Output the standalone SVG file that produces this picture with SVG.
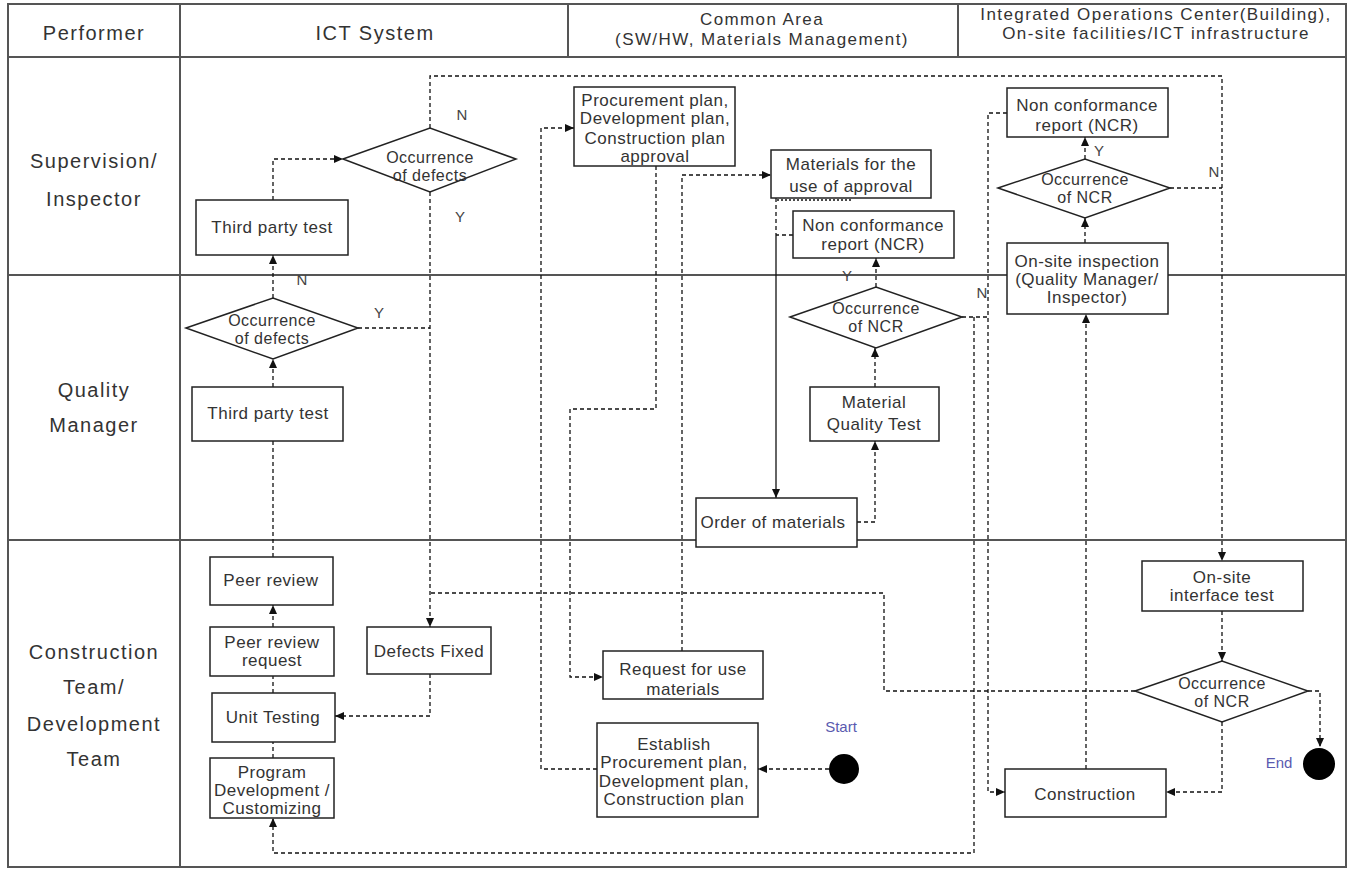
<svg xmlns="http://www.w3.org/2000/svg" width="1350" height="869" viewBox="0 0 1350 869">
<defs>
<marker id="ah" markerUnits="userSpaceOnUse" markerWidth="9" markerHeight="8" refX="9" refY="4" orient="auto">
<path d="M0,0 L9,4 L0,8 z" fill="#111"/>
</marker>
<style>
text{font-family:"Liberation Sans",Arial,sans-serif;fill:#333;text-anchor:middle}
.hdr{font-size:20px;letter-spacing:1.5px}
.hdr2{font-size:17px;letter-spacing:1.4px}
.lane{font-size:20px;letter-spacing:1.5px}
.t{font-size:17px;letter-spacing:0.5px}
.d{font-size:16px;letter-spacing:0.5px}
.yn{font-size:15px;fill:#444}
.se{font-size:15px;fill:#5a5ab0}
.box{fill:#fff;stroke:#222;stroke-width:1.5}
.tbl{fill:none;stroke:#555;stroke-width:2}
.c{fill:none;stroke:#111;stroke-width:1.3;stroke-dasharray:4 3}
.s{fill:none;stroke:#111;stroke-width:1.3}
.a{marker-end:url(#ah)}
</style>
</defs>
<rect width="1350" height="869" fill="#fff"/>
<g id="table">
<rect class="tbl" x="8" y="4" width="1338" height="863"/>
<line class="tbl" x1="8" y1="57" x2="1346" y2="57"/>
<line class="tbl" x1="180" y1="4" x2="180" y2="867"/>
<line class="tbl" x1="568" y1="4" x2="568" y2="57"/>
<line class="tbl" x1="958" y1="4" x2="958" y2="57"/>
<line class="tbl" x1="8" y1="275" x2="1346" y2="275"/>
<line class="tbl" x1="8" y1="540" x2="1346" y2="540"/>
<text class="hdr" x="94" y="40">Performer</text>
<text class="hdr" x="375" y="40">ICT System</text>
<text class="hdr2" x="762" y="25">Common Area</text>
<text class="hdr2" x="762" y="45">(SW/HW, Materials Management)</text>
<text class="hdr2" x="1156" y="20">Integrated Operations Center(Building),</text>
<text class="hdr2" x="1156" y="39">On-site facilities/ICT infrastructure</text>
<text class="lane" x="94" y="168">Supervision/</text>
<text class="lane" x="94" y="206">Inspector</text>
<text class="lane" x="94" y="397">Quality</text>
<text class="lane" x="94" y="432">Manager</text>
<text class="lane" x="94" y="659">Construction</text>
<text class="lane" x="94" y="694">Team/</text>
<text class="lane" x="94" y="731">Development</text>
<text class="lane" x="94" y="766">Team</text>
</g>
<g id="connectors">
<path class="c a" d="M273,200 V159 H343"/>
<path class="c a" d="M430,128 V76 H1222 V561"/>
<path class="c a" d="M430,192 V627"/>
<path class="c a" d="M273,298 V255"/>
<path class="c" d="M358,328 H430"/>
<path class="c a" d="M273,387 V359"/>
<path class="c" d="M273,557 V441"/>
<path class="c a" d="M273,627 V605"/>
<path class="c" d="M273,693 V676"/>
<path class="c" d="M273,758 V742"/>
<path class="c a" d="M430,674 V716 H335"/>
<path class="c" d="M1135,691 H884 V593 H430"/>
<path class="c a" d="M829,769 H758"/>
<path class="c a" d="M597,769 H541 V128 H574"/>
<path class="c a" d="M656,166 V409 H570 V677 H603"/>
<path class="c a" d="M682,651 V175 H771"/>
<path class="c" d="M776,198 V235"/>
<path class="s a" d="M776,235 V498"/>
<path class="c" d="M777,200 H852" style="stroke-dasharray:2 2"/>
<path class="c" d="M793,235 H776"/>
<path class="c a" d="M857,522 H875 V441"/>
<path class="c a" d="M875,387 V348"/>
<path class="c a" d="M876,287 V258"/>
<path class="c" d="M962,317 H988"/>
<path class="c a" d="M974,317 V853 H273 V818"/>
<path class="c a" d="M1007,113 H988 V792 H1005"/>
<path class="c a" d="M1085,159 V137"/>
<path class="c" d="M1170,188 H1222"/>
<path class="c a" d="M1085,243 V218"/>
<path class="c a" d="M1086,769 V314"/>
<path class="c a" d="M1222,611 V661"/>
<path class="c a" d="M1308,691 H1320 V747"/>
<path class="c a" d="M1222,722 V792 H1166"/>
<text class="yn" x="462" y="120">N</text>
<text class="yn" x="460" y="222">Y</text>
<text class="yn" x="302" y="285">N</text>
<text class="yn" x="379" y="318">Y</text>
<text class="yn" x="847" y="281">Y</text>
<text class="yn" x="982" y="298">N</text>
<text class="yn" x="1099" y="156">Y</text>
<text class="yn" x="1214" y="177">N</text>
</g>
<g id="n-third-party-sup">
<rect class="box" x="196" y="200" width="152" height="55"/>
<text class="t" x="272" y="233">Third party test</text>
</g>
<g id="n-defects-sup">
<polygon class="box" points="343,159 430,128 516,159 430,192"/>
<text class="d" x="430" y="163">Occurrence</text>
<text class="d" x="430" y="181">of defects</text>
</g>
<g id="n-defects-qm">
<polygon class="box" points="186,328 273,298 358,328 273,359"/>
<text class="d" x="272" y="326">Occurrence</text>
<text class="d" x="272" y="344">of defects</text>
</g>
<g id="n-third-party-qm">
<rect class="box" x="192" y="387" width="151" height="54"/>
<text class="t" x="268" y="419">Third party test</text>
</g>
<g id="n-peer-review">
<rect class="box" x="210" y="557" width="123" height="48"/>
<text class="t" x="271" y="586">Peer review</text>
</g>
<g id="n-peer-review-request">
<rect class="box" x="210" y="627" width="124" height="49"/>
<text class="t" x="272" y="648">Peer review</text>
<text class="t" x="272" y="666">request</text>
</g>
<g id="n-unit-testing">
<rect class="box" x="212" y="693" width="123" height="49"/>
<text class="t" x="273" y="723">Unit Testing</text>
</g>
<g id="n-program-dev">
<rect class="box" x="210" y="758" width="124" height="60"/>
<text class="t" x="272" y="778">Program</text>
<text class="t" x="272" y="796">Development /</text>
<text class="t" x="272" y="814">Customizing</text>
</g>
<g id="n-defects-fixed">
<rect class="box" x="367" y="627" width="124" height="47"/>
<text class="t" x="429" y="657">Defects Fixed</text>
</g>
<g id="n-plan-approval">
<rect class="box" x="574" y="87" width="161" height="79"/>
<text class="t" x="655" y="106">Procurement plan,</text>
<text class="t" x="655" y="124">Development plan,</text>
<text class="t" x="655" y="144">Construction plan</text>
<text class="t" x="655" y="162">approval</text>
</g>
<g id="n-materials-approval">
<rect class="box" x="771" y="150" width="160" height="48"/>
<text class="t" x="851" y="170">Materials for the</text>
<text class="t" x="851" y="192">use of approval</text>
</g>
<g id="n-ncr-common">
<rect class="box" x="793" y="211" width="161" height="47"/>
<text class="t" x="873" y="231">Non conformance</text>
<text class="t" x="873" y="250">report (NCR)</text>
</g>
<g id="n-ncr-decision-common">
<polygon class="box" points="790,317 876,287 962,317 876,348"/>
<text class="d" x="876" y="314">Occurrence</text>
<text class="d" x="876" y="332">of NCR</text>
</g>
<g id="n-material-quality-test">
<rect class="box" x="810" y="387" width="129" height="54"/>
<text class="t" x="874" y="408">Material</text>
<text class="t" x="874" y="430">Quality Test</text>
</g>
<g id="n-order-materials">
<rect class="box" x="696" y="498" width="161" height="49"/>
<text class="t" x="773" y="528">Order of materials</text>
</g>
<g id="n-request-materials">
<rect class="box" x="603" y="651" width="160" height="48"/>
<text class="t" x="683" y="675">Request for use</text>
<text class="t" x="683" y="695">materials</text>
</g>
<g id="n-establish-plan">
<rect class="box" x="597" y="723" width="161" height="94"/>
<text class="t" x="674" y="750">Establish</text>
<text class="t" x="674" y="768">Procurement plan,</text>
<text class="t" x="674" y="787">Development plan,</text>
<text class="t" x="674" y="805">Construction plan</text>
</g>
<g id="n-start">
<circle cx="844" cy="769" r="15" fill="#000"/>
<text class="se" x="841" y="732">Start</text>
</g>
<g id="n-ncr-integrated">
<rect class="box" x="1007" y="88" width="161" height="49"/>
<text class="t" x="1087" y="111">Non conformance</text>
<text class="t" x="1087" y="131">report (NCR)</text>
</g>
<g id="n-ncr-decision-top">
<polygon class="box" points="998,188 1085,159 1170,188 1085,218"/>
<text class="d" x="1085" y="185">Occurrence</text>
<text class="d" x="1085" y="203">of NCR</text>
</g>
<g id="n-onsite-inspection">
<rect class="box" x="1007" y="243" width="161" height="71"/>
<text class="t" x="1087" y="267">On-site inspection</text>
<text class="t" x="1087" y="285">(Quality Manager/</text>
<text class="t" x="1087" y="303">Inspector)</text>
</g>
<g id="n-interface-test">
<rect class="box" x="1142" y="561" width="161" height="50"/>
<text class="t" x="1222" y="583">On-site</text>
<text class="t" x="1222" y="601">interface test</text>
</g>
<g id="n-ncr-decision-bottom">
<polygon class="box" points="1135,691 1222,661 1308,691 1222,722"/>
<text class="d" x="1222" y="689">Occurrence</text>
<text class="d" x="1222" y="707">of NCR</text>
</g>
<g id="n-construction">
<rect class="box" x="1005" y="769" width="161" height="48"/>
<text class="t" x="1085" y="800">Construction</text>
</g>
<g id="n-end">
<circle cx="1319" cy="764" r="16" fill="#000"/>
<text class="se" x="1279" y="768">End</text>
</g>
</svg>
